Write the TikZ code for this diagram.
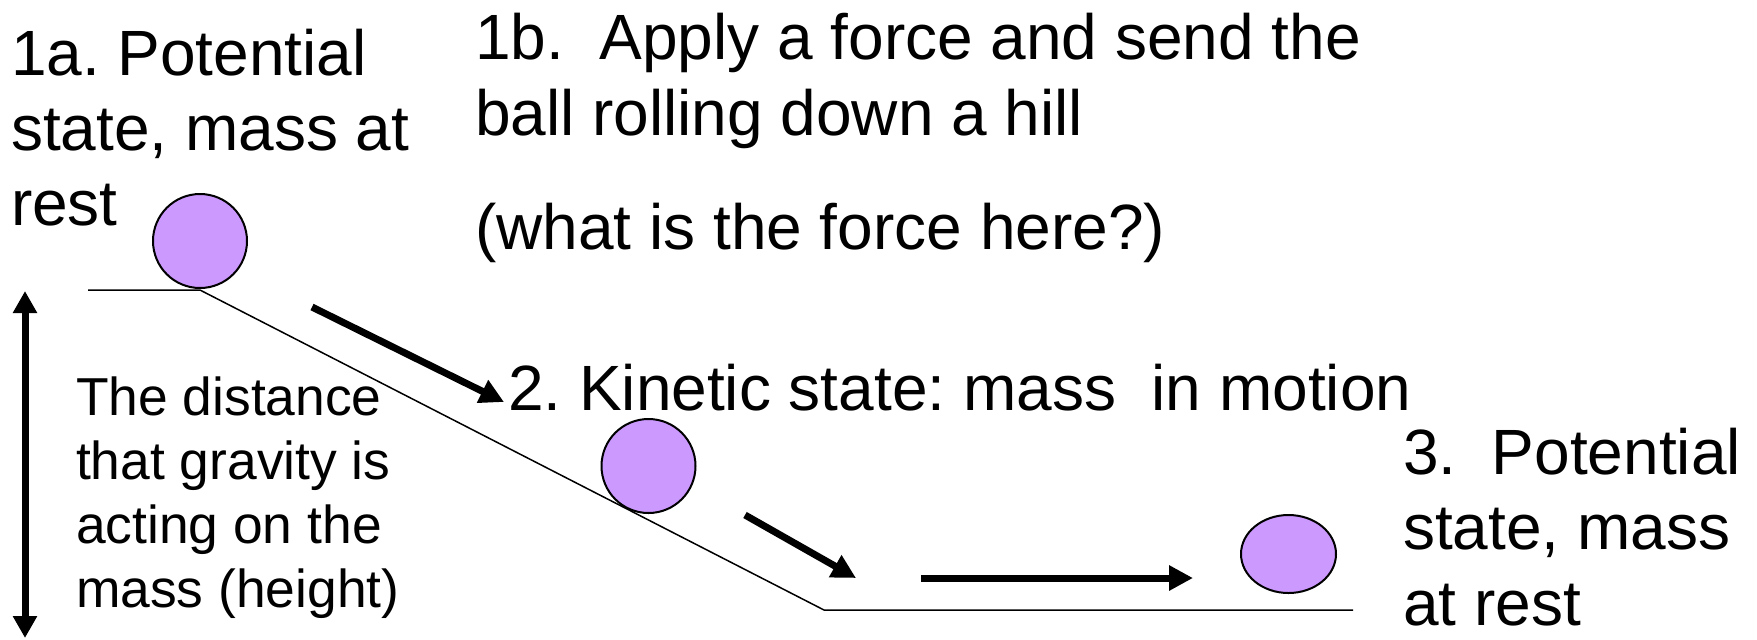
\documentclass[tikz,border=0pt]{standalone}
\usepackage{fontspec}
\setmainfont{Liberation Sans}
\usetikzlibrary{arrows.meta,shapes.geometric}
\definecolor{ballpurple}{HTML}{CC99FF}
\frenchspacing
\begin{document}
\begin{tikzpicture}[x=0.5pt,y=-0.5pt,
  ball/.style={circle,draw=black,line width=1pt,fill=ballpurple,inner sep=0pt,minimum size=47pt},
  oval/.style={ellipse,draw=black,line width=1pt,fill=ballpurple,inner sep=0pt},
  ground/.style={draw=black,line width=0.75pt},
  bigarrow/.style={draw=black,line width=3.5pt,-{Triangle[length=12pt,width=12pt]}},
  heightarrow/.style={draw=black,line width=3.5pt,{Triangle[length=11pt,width=11.5pt]}-{Triangle[length=11pt,width=11.5pt]}},
  bigtext/.style={anchor=base west,inner sep=0pt,outer sep=0pt},
]
\useasboundingbox (0,0) rectangle (1757,639);

% balls
\node[ball] (b1) at (200,241) {};
\node[ball] (b2) at (648.5,466) {};
\node[oval,minimum width=47.5pt,minimum height=39pt] (b3) at (1288.5,554) {};

% ground
\coordinate (g0) at (88,290);
\coordinate (g1) at (200,290);
\coordinate (g2) at (824,610);
\coordinate (g3) at (1353,610);
\draw[ground] (g0) -- (g1) -- (g2) -- (g3);

% motion arrows
\coordinate (a1s) at (312,307);
\coordinate (a1e) at (504,402);
\coordinate (a2s) at (745,515);
\coordinate (a2e) at (856,578);
\coordinate (a3s) at (921,578);
\coordinate (a3e) at (1193,578);
\draw[bigarrow] (a1s) -- (a1e);
\draw[bigarrow] (a2s) -- (a2e);
\draw[bigarrow] (a3s) -- (a3e);

% height arrow
\coordinate (h1) at (25,291);
\coordinate (h2) at (25,638);
\draw[heightarrow] (h1) -- (h2);

% texts
\node[bigtext,font=\fontsize{32pt}{37.5pt}\selectfont] (t1a) at (11,75)
  {\begin{tabular}[t]{@{}l@{}}1a. Potential\\state, mass at\\rest\end{tabular}};
\node[bigtext,font=\fontsize{32pt}{38pt}\selectfont] (t1b) at (475,59)
  {\begin{tabular}[t]{@{}l@{}}1b.\ \ Apply a force and send the\\ball rolling down a hill\end{tabular}};
\node[bigtext,font=\fontsize{32pt}{38pt}\selectfont] (t1q) at (475,249)
  {(what is the force here?)};
\node[bigtext,font=\fontsize{32pt}{38pt}\selectfont] (t2) at (508,410)
  {2. Kinetic state: mass\ \ in motion};
\node[bigtext,font=\fontsize{32pt}{37.75pt}\selectfont] (t3) at (1403,474)
  {\begin{tabular}[t]{@{}l@{}}3.\ \ Potential\\state, mass\\at rest\end{tabular}};
\node[bigtext,font=\fontsize{26.7pt}{32.15pt}\selectfont] (td) at (76,415)
  {\begin{tabular}[t]{@{}l@{}}The distance\\that gravity is\\acting on the\\mass (height)\end{tabular}};
\end{tikzpicture}
\end{document}
